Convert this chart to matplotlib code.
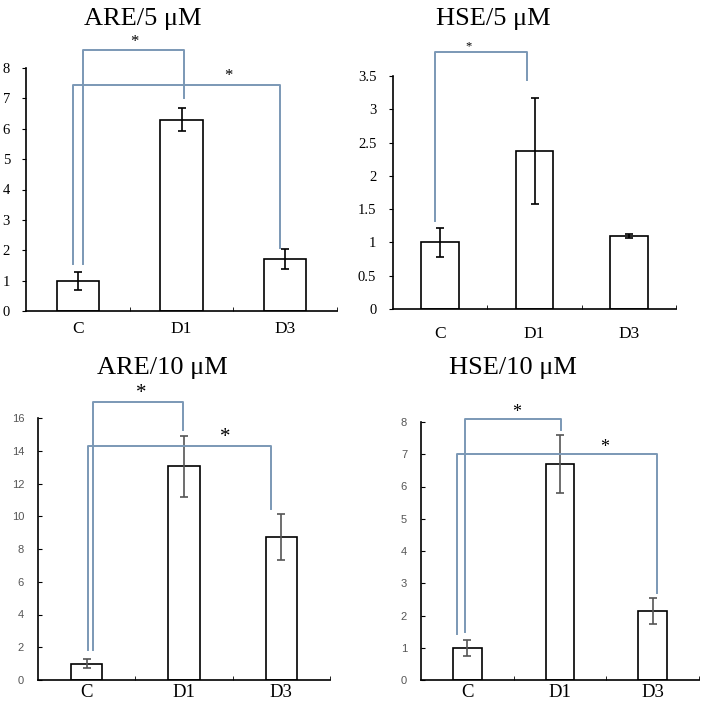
import matplotlib
matplotlib.use("Agg")
import matplotlib.pyplot as plt

plt.rcParams["font.family"] = ["Liberation Serif", "DejaVu Serif"]

groups = ["C", "D1", "D3"]

are5_vals = [1.0, 6.3, 1.72]
are5_err = [0.3, 0.38, 0.33]
hse5_vals = [1.0, 2.37, 1.1]
hse5_err = [0.22, 0.8, 0.03]
are10_vals = [1.0, 13.05, 8.75]
are10_err = [0.27, 1.87, 1.4]
hse10_vals = [1.0, 6.7, 2.15]
hse10_err = [0.25, 0.91, 0.4]

# brackets: (left x, right x, left bottom y, top y, right bottom y, star x, star y)
are5_brackets = [(0.05, 1.02, 1.55, 8.58, 7.0, 0.55, 8.85),
                 (-0.05, 1.95, 1.55, 7.43, 2.07, 1.45, 7.75)]
hse5_brackets = [(-0.05, 0.92, 1.32, 3.86, 3.44, 0.3, 3.95)]
are10_brackets = [(0.07, 0.99, 1.83, 16.96, 15.29, 0.56, 17.5),
                  (0.01, 1.89, 1.83, 14.27, 10.44, 1.42, 14.8)]
hse10_brackets = [(-0.03, 1.01, 1.5, 8.08, 7.76, 0.53, 8.3),
                  (-0.11, 2.05, 1.44, 7.0, 2.7, 1.48, 7.22)]

BRACKET = "#7b98b5"
W, H = 702, 708


def add_panel(fig, box, vals, errs, ymax, ystep, title, title_xy, brackets,
              bar_w, lab_pad, bottom_style, star_size, ypad):
    left, right, y0, ytop = box
    ax = fig.add_axes([left / W, (H - y0) / H, (right - left) / W, (y0 - ytop) / H])
    x = list(range(len(groups)))
    err_col = "#555555" if bottom_style else "black"
    ax.bar(x, vals, width=bar_w, color="white", edgecolor="black", linewidth=1.2,
           yerr=errs, capsize=3,
           error_kw=dict(ecolor=err_col, elinewidth=1.2, capthick=1.2), zorder=2)
    ax.set_xlim(-0.5, 2.5)
    ax.set_ylim(0, ymax)
    ticks = []
    t = 0.0
    while t <= ymax + 1e-9:
        ticks.append(t)
        t += ystep
    ax.set_yticks(ticks)
    if bottom_style:
        ax.set_yticklabels([f"{v:g}" for v in ticks], family="Liberation Sans",
                           fontsize=8, color="#555555")
        ax.tick_params(axis="y", direction="in", length=3, pad=ypad)
        xfs = 13.5
    else:
        ax.set_yticklabels([f"{v:g}" for v in ticks], fontsize=10.5)
        ax.tick_params(axis="y", direction="out", length=3, pad=ypad)
        xfs = 12.5
    ax.set_xticks(x)
    ax.set_xticklabels(groups, fontsize=xfs)
    ax.tick_params(axis="x", length=0, pad=lab_pad)
    ax.set_xticks([0.5, 1.5, 2.5], minor=True)
    ax.tick_params(axis="x", which="minor", direction="in", length=3)
    for s in ["top", "right"]:
        ax.spines[s].set_visible(False)
    ax.spines["left"].set_linewidth(1.2)
    ax.spines["bottom"].set_linewidth(1.2)
    for (xl, xr, yl, yt, yr, sx, sy) in brackets:
        ax.plot([xl, xl, xr, xr], [yl, yt, yt, yr], color=BRACKET, lw=1.4,
                clip_on=False, zorder=3)
        ax.text(sx, sy, "*", ha="center", va="center", fontsize=star_size,
                clip_on=False)
    fig.text(title_xy[0] / W, 1 - title_xy[1] / H, title, ha="center",
             va="center", fontsize=19)
    return ax


fig = plt.figure(figsize=(W / 100, H / 100), dpi=100)

add_panel(fig, (26, 337, 311, 68), are5_vals, are5_err, 8, 1, "ARE/5 μM",
          (143, 19), are5_brackets, 0.41, 7, False, 12, 8.5)
add_panel(fig, (393, 676, 309, 76), hse5_vals, hse5_err, 3.5, 0.5, "HSE/5 μM",
          (493, 19), hse5_brackets, 0.40, 12, False, 9, 9)
add_panel(fig, (38, 330, 680, 418), are10_vals, are10_err, 16, 2, "ARE/10 μM",
          (162, 368), are10_brackets, 0.32, 3, True, 15, 10)
add_panel(fig, (421, 699, 680, 422), hse10_vals, hse10_err, 8, 1, "HSE/10 μM",
          (513, 368), hse10_brackets, 0.31, 3, True, 13, 10)

fig.savefig("out.png", dpi=100)
